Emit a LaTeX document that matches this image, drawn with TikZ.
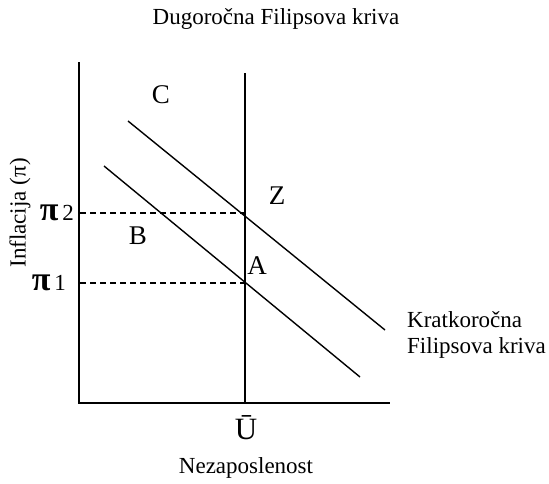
\documentclass[tikz,border=0pt]{standalone}
\usepackage{fontspec}
\setmainfont{Liberation Serif}
\begin{document}
\begin{tikzpicture}[x=1pt,y=-1pt,
  axis/.style={line width=1.5pt},
  curve/.style={line width=1.4pt},
  guide/.style={line width=1.1pt,dash pattern=on 6pt off 4pt},
  txt/.style={font=\fontsize{23}{26}\selectfont,inner sep=0pt},
  pt/.style={font=\fontsize{27}{30}\selectfont,inner sep=0pt},
  pisym/.style={font=\fontsize{23}{26}\selectfont,inner sep=0pt}]
\useasboundingbox (0,0) rectangle (549,483);
% axes
\coordinate (ytop) at (79,62);
\coordinate (orig) at (79,403);
\coordinate (xend) at (390,403);
\draw[axis] (ytop) -- (orig) -- (xend);
% long-run vertical line
\coordinate (vtop) at (245,73);
\coordinate (vbot) at (245,403);
\draw[axis] (vtop) -- (vbot);
% short-run curves
\coordinate (u1) at (128,121);
\coordinate (u2) at (385,330);
\coordinate (l1) at (104,166);
\coordinate (l2) at (360,377);
\draw[curve] (u1) -- (u2);
\draw[curve] (l1) -- (l2);
% dashed guides
\coordinate (p2a) at (80,213);
\coordinate (p2b) at (245,213);
\coordinate (p1a) at (80,283);
\coordinate (p1b) at (245,283);
\draw[guide] (p2a) -- (p2b);
\draw[guide] (p1a) -- (p1b);
% labels
\node[txt] (title) at (276,19) {Dugoročna Filipsova kriva};
\node[pt] (C) at (161,95) {C};
\node[pt] (Z) at (277,196) {Z};
\node[pt] (B) at (138,236) {B};
\node[pt] (A) at (257,266) {A};
\node[pisym,anchor=east] (pi2) at (74,213) {{\fontsize{34}{34}\selectfont\bfseries π}\,2};
\node[pisym,anchor=east] (pi1) at (66,283) {{\fontsize{34}{34}\selectfont\bfseries π}\,1};
\node[txt,rotate=90] (ylab) at (20,213) {Inflacija (π)};
\node[pt,font=\fontsize{31}{34}\selectfont] (ubar) at (246,428) {Ū};
\node[txt] (xlab) at (246,468) {Nezaposlenost};
\node[txt,anchor=west,align=left] (srlab) at (407,335) {Kratkoročna\\Filipsova kriva};
\end{tikzpicture}
\end{document}
